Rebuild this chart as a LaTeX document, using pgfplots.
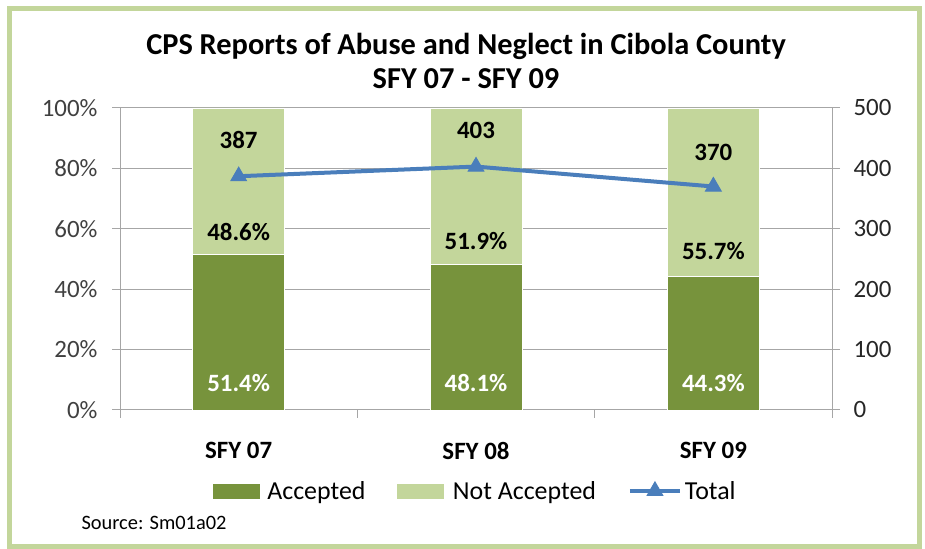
\documentclass[border=0pt]{standalone}
\usepackage{fontspec}
\setmainfont{Carlito}
\usepackage{pgfplots}
\pgfplotsset{compat=1.18}
\definecolor{acc}{HTML}{77933C}
\definecolor{nacc}{HTML}{C3D69B}
\definecolor{tot}{HTML}{4A7EBB}
\definecolor{framec}{HTML}{C3D69B}
\definecolor{gridc}{HTML}{A6A6A6}
\pgfplotsset{totleg/.style={legend image code/.code={\draw[mark repeat=2, mark phase=2, ##1] plot coordinates {(0bp,0bp) (25bp,0bp) (50bp,0bp)}; \path (51bp,0bp);}}}
\begin{document}
\begin{tikzpicture}[x=1bp,y=1bp]
\useasboundingbox (0,0) rectangle (925,549);
\draw[framec, line width=5bp] (9.5,2.5) rectangle (919,540.5);
\node[font=\bfseries\fontsize{30.5}{34}\selectfont] at (466,503) {CPS Reports of Abuse and Neglect in Cibola County};
\node[font=\bfseries\fontsize{30.5}{34}\selectfont] at (466,470) {SFY 07 - SFY 09};
\node[anchor=west, font=\fontsize{20.5}{22}\selectfont] at (78,26) {Source: Sm01a02};

\begin{axis}[
  at={(120bp,139bp)}, anchor=south west,
  width=712bp, height=302bp, scale only axis,
  xmin=-0.5, xmax=2.5, ymin=0, ymax=100,
  ybar stacked, bar width=92bp,
  axis y line*=left, axis x line*=bottom,
  axis line style={gridc, line width=1bp},
  tick align=outside, major tick length=8bp,
  tick style={gridc, line width=1bp},
  ytick={0,20,40,60,80,100},
  yticklabel={\pgfmathprintnumber{\tick}\%},
  yticklabel style={font=\fontsize{25}{28}\selectfont, text=black!75, xshift=-11bp},
  /pgf/number format/assume math mode=true,
  ymajorgrids, grid style={gridc, line width=1bp},
  xtick={-0.5,0.5,1.5,2.5}, xticklabels={},
  extra x ticks={0,1,2},
  extra x tick labels={SFY 07,SFY 08,SFY 09},
  extra x tick style={major tick length=0pt,
    xticklabel style={font=\bfseries\fontsize{25}{28}\selectfont, text=black, yshift=-29bp}},
]
\addplot[fill=acc, draw=white, line width=0.6bp] coordinates {(0,51.4) (1,48.1) (2,44.3)};
\addplot[fill=nacc, draw=white, line width=0.6bp] coordinates {(0,48.6) (1,51.9) (2,55.7)};
\end{axis}

\begin{axis}[
  at={(120bp,139bp)}, anchor=south west,
  width=712bp, height=302bp, scale only axis,
  xmin=-0.5, xmax=2.5, ymin=0, ymax=500,
  axis y line*=right, axis x line=none,
  axis line style={gridc, line width=1bp},
  tick align=outside, major tick length=8bp,
  tick style={gridc, line width=1bp},
  ytick={0,100,200,300,400,500},
  yticklabel style={font=\fontsize{25}{28}\selectfont, text=black!85, xshift=10bp},
  /pgf/number format/assume math mode=true,
  legend columns=3,
  legend style={at={(0.499,-0.268)}, anchor=center, draw=none, fill=none,
    font=\fontsize{26}{28}\selectfont,
    /tikz/every even column/.append style={column sep=30bp}},
]
\addlegendimage{legend image code/.code={\fill[acc] (0bp,-7bp) rectangle (46bp,7bp); \path (52bp,0bp);}}
\addlegendentry{Accepted}
\addlegendimage{legend image code/.code={\fill[nacc] (0bp,-7bp) rectangle (46bp,7bp); \path (53bp,0bp);}}
\addlegendentry{Not Accepted}
\addplot[tot, line width=4bp, mark=triangle*, mark size=9bp, mark options={fill=tot, line width=1bp}, totleg]
  coordinates {(0,387) (1,403) (2,370)};
\addlegendentry{Total}
\node[text=black, font=\bfseries\fontsize{25}{28}\selectfont] at (axis cs:0,447) {387};
\node[text=black, font=\bfseries\fontsize{25}{28}\selectfont] at (axis cs:1,463) {403};
\node[text=black, font=\bfseries\fontsize{25}{28}\selectfont] at (axis cs:2,427) {370};
\node[text=white, font=\bfseries\fontsize{25}{28}\selectfont] at (axis cs:0,44.5) {51.4\%};
\node[text=white, font=\bfseries\fontsize{25}{28}\selectfont] at (axis cs:1,44.5) {48.1\%};
\node[text=white, font=\bfseries\fontsize{25}{28}\selectfont] at (axis cs:2,44.5) {44.3\%};
\node[text=black, font=\bfseries\fontsize{25}{28}\selectfont] at (axis cs:0,294) {48.6\%};
\node[text=black, font=\bfseries\fontsize{25}{28}\selectfont] at (axis cs:1,279) {51.9\%};
\node[text=black, font=\bfseries\fontsize{25}{28}\selectfont] at (axis cs:2,263) {55.7\%};
\end{axis}
\end{tikzpicture}
\end{document}
